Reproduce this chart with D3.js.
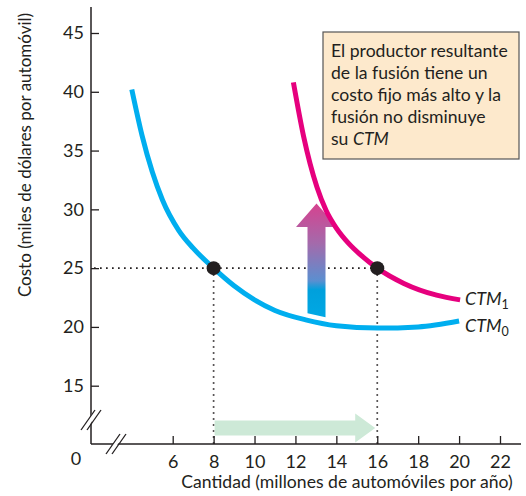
<!DOCTYPE html>
<html>
<head>
<meta charset="utf-8">
<script src="https://cdn.jsdelivr.net/npm/d3@7"></script>
<style>
  body { margin: 0; background: #fff; }
  svg { display: block; font-family: Lato, "Noto Sans", sans-serif; }
</style>
</head>
<body>
<div id="chart"></div>
<script>
// data
const qTicks = [6, 8, 10, 12, 14, 16, 18, 20, 22];
const costTicks = [15, 20, 25, 30, 35, 40, 45];

// CTM0 (blue) curve
const ctm0Q = [4.0, 4.5, 5.0, 5.5, 6.3, 7, 8, 9, 10, 11, 12.5, 14, 16, 18, 20];
const ctm0C = [40.2, 36.3, 33.2, 30.8, 28.2, 26.7, 25, 23.5, 22.3, 21.4, 20.6, 20.1, 19.9, 20.0, 20.5];

// CTM1 (magenta) curve
const ctm1Q = [11.9, 12.4, 13.05, 13.5, 14.0, 14.6, 15.2, 16, 17.3, 18.9, 20.05];
const ctm1C = [40.8, 36.2, 31.9, 29.9, 28.4, 27.1, 26.1, 25, 23.7, 22.7, 22.3];

// highlighted points
const pointQ = [8, 16];
const pointC = [25, 25];

const boxLines = ["El productor resultante", "de la fusión tiene un", "costo fijo más alto y la", "fusión no disminuye"];

// layout
const width = 526, height = 496;
const axisX = 91, axisY = 444;

const svg = d3.select("#chart")
    .append("svg")
    .attr("width", width)
    .attr("height", height);

const x = d3.scaleLinear().domain([6, 22]).range([172.7, 500]);
const y = d3.scaleLinear().domain([15, 45]).range([385.7, 33]);

// gradient for the up arrow
const defs = svg.append("defs");
const grad = defs.append("linearGradient")
    .attr("id", "upGrad")
    .attr("x1", 0).attr("y1", 0).attr("x2", 0).attr("y2", 1);
[["0%", "#d6428f"], ["35%", "#a46aab"], ["68%", "#5b8fd0"], ["76%", "#00a0dc"], ["100%", "#00a8e4"]]
    .forEach(s => grad.append("stop").attr("offset", s[0]).attr("stop-color", s[1]));

// y axis
svg.append("g")
    .attr("transform", `translate(${axisX},0)`)
    .call(d3.axisLeft(y).tickValues(costTicks).tickSizeInner(-8).tickSizeOuter(0).tickPadding(7))
    .call(g => g.select(".domain").remove())
    .call(g => g.selectAll("line").attr("stroke", "#231f20").attr("stroke-width", 1.3))
    .call(g => g.selectAll("text").attr("font-size", 18).attr("fill", "#231f20").attr("font-family", "Lato"));

// x axis
svg.append("g")
    .attr("transform", `translate(0,${axisY})`)
    .call(d3.axisBottom(x).tickValues(qTicks).tickSizeInner(-8).tickSizeOuter(0).tickPadding(11))
    .call(g => g.select(".domain").remove())
    .call(g => g.selectAll("line").attr("stroke", "#231f20").attr("stroke-width", 1.3))
    .call(g => g.selectAll("text").attr("font-size", 18).attr("fill", "#231f20").attr("font-family", "Lato"));

// axis lines
svg.append("line")
    .attr("x1", axisX).attr("x2", axisX).attr("y1", 7).attr("y2", axisY)
    .attr("stroke", "#231f20").attr("stroke-width", 1.5);
svg.append("line")
    .attr("x1", axisX).attr("x2", 521).attr("y1", axisY).attr("y2", axisY)
    .attr("stroke", "#231f20").attr("stroke-width", 1.5);

// axis breaks
function breakMark(cx, cy) {
    svg.append("polygon")
        .attr("points", `${cx - 9},${cy + 9} ${cx + 2},${cy - 8} ${cx + 7},${cy - 8} ${cx - 4},${cy + 9}`)
        .attr("fill", "#fff");
    [-3, 3].forEach(o => {
        svg.append("line")
            .attr("x1", cx + o - 7).attr("y1", cy + 10)
            .attr("x2", cx + o + 7).attr("y2", cy - 10)
            .attr("stroke", "#231f20").attr("stroke-width", 1.3);
    });
}
breakMark(axisX, 420);
breakMark(116, axisY);

svg.append("text")
    .attr("x", 76).attr("y", 465)
    .attr("text-anchor", "middle")
    .attr("font-size", 18).attr("fill", "#231f20")
    .text("0");

// axis titles
svg.append("text")
    .attr("x", 347).attr("y", 488)
    .attr("text-anchor", "middle")
    .attr("font-size", 17.6).attr("fill", "#231f20")
    .text("Cantidad (millones de automóviles por año)");
svg.append("text")
    .attr("transform", "translate(31,155) rotate(-90)")
    .attr("text-anchor", "middle")
    .attr("font-size", 17).attr("fill", "#231f20")
    .text("Costo (miles de dólares por automóvil)");

// dotted guides
const dotted = { stroke: "#231f20", "stroke-width": 1.7, "stroke-dasharray": "1.7,4.3", "stroke-linecap": "butt" };
function guide(x1, y1, x2, y2) {
    const l = svg.append("line").attr("x1", x1).attr("y1", y1).attr("x2", x2).attr("y2", y2);
    Object.entries(dotted).forEach(([k, v]) => l.attr(k, v));
}
guide(axisX + 3, y(25), x(16), y(25));
guide(x(8), y(25), x(8), axisY);
guide(x(16), y(25), x(16), axisY);

// green arrow along the quantity axis
const gq0 = x(8.05), gq1 = x(15.9), gy = axisY - 16;
svg.append("path")
    .attr("d", `M${gq0},${gy - 7.5} L${gq1 - 20},${gy - 7.5} L${gq1 - 20},${gy - 14.5} L${gq1},${gy}
                L${gq1 - 20},${gy + 14.5} L${gq1 - 20},${gy + 7.5} L${gq0},${gy + 7.5} Z`)
    .attr("fill", "#cde9d7");

// up arrow (gradient)
const ax = x(13.03), aTop = y(30.5), aHead = y(28.5), aBot = y(21.0);
svg.append("path")
    .attr("d", `M${ax},${aTop} L${ax + 20.5},${aHead} L${ax + 9},${aHead} L${ax + 9},${aBot + 2}
                L${ax - 9},${aBot - 2} L${ax - 9},${aHead} L${ax - 20.5},${aHead} Z`)
    .attr("fill", "url(#upGrad)");

// curves
const line = d3.line()
    .curve(d3.curveMonotoneX)
    .x(d => x(d[0]))
    .y(d => y(d[1]));

svg.append("path")
    .datum(ctm0Q.map((q, i) => [q, ctm0C[i]]))
    .attr("fill", "none")
    .attr("stroke", "#00aeef")
    .attr("stroke-width", 5)
    .attr("d", line);

svg.append("path")
    .datum(ctm1Q.map((q, i) => [q, ctm1C[i]]))
    .attr("fill", "none")
    .attr("stroke", "#e6007e")
    .attr("stroke-width", 5)
    .attr("d", line);

// points
svg.selectAll(".pt")
    .data(pointQ.map((q, i) => [q, pointC[i]]))
    .join("circle")
    .attr("class", "pt")
    .attr("cx", d => x(d[0]))
    .attr("cy", d => y(d[1]))
    .attr("r", 7)
    .attr("fill", "#231f20");

// curve labels
function ctmLabel(sub, yy) {
    const t = svg.append("text")
        .attr("x", 465).attr("y", yy)
        .attr("font-size", 18).attr("fill", "#231f20");
    t.append("tspan").attr("font-style", "italic").text("CTM");
    t.append("tspan").attr("font-size", 12.5).attr("dy", 4).text(sub);
}
ctmLabel("1", 305);
ctmLabel("0", 332);

// annotation box
svg.append("rect")
    .attr("x", 323).attr("y", 32)
    .attr("width", 196).attr("height", 127)
    .attr("fill", "#fde9cc")
    .attr("stroke", "#555")
    .attr("stroke-width", 1.2);

const bt = svg.append("text")
    .attr("font-size", 17.6).attr("fill", "#231f20");
boxLines.forEach((s, i) => {
    bt.append("tspan").attr("x", 331).attr("y", 57 + i * 22).text(s);
});
const last = bt.append("tspan").attr("x", 331).attr("y", 57 + 4 * 22);
last.text("su ");
bt.append("tspan").attr("font-style", "italic").text("CTM");
</script>
</body>
</html>
